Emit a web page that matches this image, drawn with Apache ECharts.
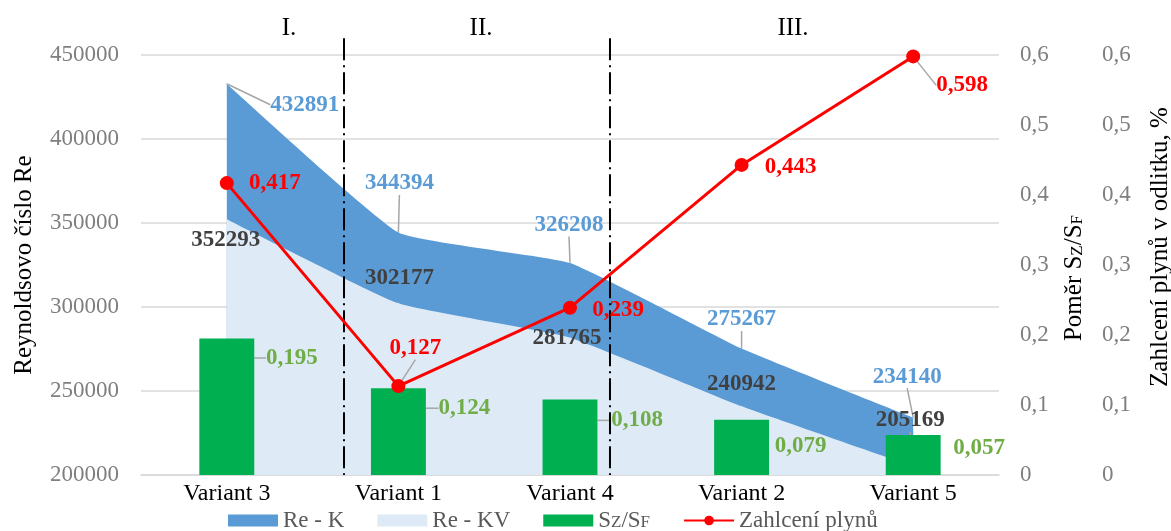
<!DOCTYPE html>
<html>
<head>
<meta charset="utf-8">
<script src="https://cdn.jsdelivr.net/npm/echarts@6/dist/echarts.min.js"></script>
<style>html,body{margin:0;padding:0;background:#fff}#c{width:1171px;height:531px}</style>
</head>
<body>
<div id="c"></div>
<script>
// ---- data ----
const categories = ['Variant 3', 'Variant 1', 'Variant 4', 'Variant 2', 'Variant 5'];
const reK = [432891, 344394, 326208, 275267, 234140];
const reKV = [352293, 302177, 281765, 240942, 205169];
const szsf = [0.195, 0.124, 0.108, 0.079, 0.057];
const zahlceni = [0.417, 0.127, 0.239, 0.443, 0.598];
const sections = ['I.', 'II.', 'III.'];
const dividerPos = [0.683, 2.233]; // position between categories (category index units)
const dividerRange = [460000, 200000]; // vertical extent of the dividers on the Re axis

// ---- layout (label offsets from the mark: dx, dy, leader line) ----
const offReK = [[78, 21, 1], [1, -49, 1], [-1, -38, 1], [0, -29, 1], [-6, -41, 1]];
const offReKV = [[-1, 21, 0], [1, -25, 0], [-3, 0, 0], [0, -22, 0], [-3, -46, 1]];
const offSz = [[65, 19.5, 1], [66, 20, 1], [67, 21, 1], [59, 26, 0], [66, 13, 0]];
const offZ = [[48, 0, 0], [17, -38, 1], [48, 2, 0], [49, 2, 0], [49, 29, 1]];
const sectionX = [289, 481, 793];

const FONT = "'Liberation Serif', 'Times New Roman', serif";
const comma = v => String(v).replace('.', ',');
const leader = { show: true, lineStyle: { color: '#A6A6A6', width: 1.5 } };

function items(vals, offs) {
  return vals.map((v, i) => ({ value: v, labelLine: offs[i][2] ? leader : { show: false } }));
}
function centerLayout(offs) {
  return p => ({
    x: p.rect.x + p.rect.width / 2 + offs[p.dataIndex][0],
    y: p.rect.y + p.rect.height / 2 + offs[p.dataIndex][1],
    align: 'center', verticalAlign: 'middle'
  });
}
function topLayout(offs) {
  return p => ({
    x: p.rect.x + p.rect.width / 2 + offs[p.dataIndex][0],
    y: p.rect.y + offs[p.dataIndex][1],
    align: 'center', verticalAlign: 'middle'
  });
}
const lbl = (color, fmt) => ({
  show: true, position: 'inside', color: color, fontFamily: FONT,
  fontWeight: 'bold', fontSize: 23, formatter: fmt
});

const dividerData = [];
dividerPos.forEach((x, i) => {
  if (i) dividerData.push('-');
  dividerData.push([x, dividerRange[0]], [x, dividerRange[1]]);
});

const chart = echarts.init(document.getElementById('c'));
chart.setOption({
  animation: false,
  textStyle: { fontFamily: FONT },
  grid: { left: 141, right: 172, top: 55, bottom: 56, containLabel: false, outerBoundsMode: 'none' },
  legend: {
    left: 223, top: 504, itemWidth: 50, itemHeight: 12, itemGap: 33,
    textStyle: {
      fontFamily: FONT, fontSize: 23, color: '#595959',
      rich: { n: { fontFamily: FONT, fontSize: 23, color: '#595959' }, s: { fontFamily: FONT, fontSize: 17, color: '#595959', padding: [5, 0, 0, 0] } }
    },
    formatter: n => n === 'SZ/SF' ? '{n|S}{s|Z}{n|/S}{s|F}' : n,
    data: [
      { name: 'Re - K', icon: 'rect', itemStyle: { color: '#5B9BD5' } },
      { name: 'Re - KV', icon: 'rect', itemStyle: { color: '#DEEBF7' } },
      { name: 'SZ/SF', icon: 'rect' },
      { name: 'Zahlcení plynů' }
    ]
  },
  graphic: sections.map((s, i) => ({
    type: 'text', x: sectionX[i], y: 28,
    style: { text: s, fontFamily: FONT, fontSize: 25, fill: '#000', align: 'center', verticalAlign: 'middle' }
  })),
  xAxis: [
    {
      type: 'category', data: categories, boundaryGap: true,
      axisLine: { lineStyle: { color: '#D9D9D9', width: 1.5 } },
      axisTick: { show: false },
      axisLabel: { color: '#000', fontFamily: FONT, fontSize: 24, margin: 7 }
    },
    { type: 'value', min: -0.5, max: 4.5, show: false }
  ],
  yAxis: [
    {
      type: 'value', min: 200000, max: 450000, interval: 50000,
      name: 'Reynoldsovo číslo Re', nameLocation: 'middle', nameGap: 104,
      nameTextStyle: { fontFamily: FONT, fontSize: 25, color: '#000' },
      axisLine: { show: false }, axisTick: { show: false },
      axisLabel: { color: '#7F7F7F', fontFamily: FONT, fontSize: 23, margin: 22, formatter: v => String(v) },
      splitLine: { lineStyle: { color: '#D9D9D9', width: 1.5 } }
    },
    {
      type: 'value', min: 0, max: 0.6, interval: 0.1, position: 'right',
      name: '{n|Poměr S}{s|Z}{n|/S}{s|F}', nameLocation: 'middle', nameGap: 63, nameRotate: 90,
      nameTextStyle: {
        fontFamily: FONT, fontSize: 25, color: '#000', padding: [0, 26, 0, 0],
        rich: { n: { fontFamily: FONT, fontSize: 25, color: '#000' }, s: { fontFamily: FONT, fontSize: 17, color: '#000', padding: [6, 0, 0, 0] } }
      },
      axisLine: { show: false }, axisTick: { show: false }, splitLine: { show: false },
      axisLabel: { color: '#7F7F7F', fontFamily: FONT, fontSize: 23, margin: 21, formatter: v => v === 0 ? '0' : comma(v.toFixed(1)) }
    },
    {
      type: 'value', min: 0, max: 0.6, interval: 0.1, position: 'right', offset: 82,
      name: 'Zahlcení plynů v odlitku, %', nameLocation: 'middle', nameGap: 67, nameRotate: 90,
      nameTextStyle: { fontFamily: FONT, fontSize: 25, color: '#000', padding: [0, 0, 0, 36] },
      axisLine: { show: false }, axisTick: { show: false }, splitLine: { show: false },
      axisLabel: { color: '#7F7F7F', fontFamily: FONT, fontSize: 23, margin: 21, formatter: v => v === 0 ? '0' : comma(v.toFixed(1)) }
    }
  ],
  series: [
    {
      name: 'Re - K', type: 'line', yAxisIndex: 0, smooth: 0.12, z: 1,
      symbol: 'circle', symbolSize: 1, itemStyle: { color: '#5B9BD5' },
      lineStyle: { width: 0 }, areaStyle: { color: '#5B9BD5', opacity: 1, origin: 'start' },
      data: items(reK, offReK),
      label: lbl('#5B9BD5'), labelLayout: centerLayout(offReK)
    },
    {
      name: 'Re - KV', type: 'line', yAxisIndex: 0, smooth: 0.12, z: 2,
      symbol: 'circle', symbolSize: 1, itemStyle: { color: '#DEEBF7' },
      lineStyle: { width: 0 }, areaStyle: { color: '#DEEBF7', opacity: 1, origin: 'start' },
      data: items(reKV, offReKV),
      label: lbl('#404040'), labelLayout: centerLayout(offReKV)
    },
    {
      name: 'SZ/SF', type: 'bar', yAxisIndex: 1, barWidth: '32%', z: 3,
      itemStyle: { color: '#00B050' },
      data: items(szsf, offSz),
      label: lbl('#70AD47', p => comma(p.value)), labelLayout: topLayout(offSz)
    },
    {
      name: 'dividers', type: 'line', xAxisIndex: 1, yAxisIndex: 0, z: 4, clip: false,
      silent: true, symbol: 'none', connectNulls: false,
      lineStyle: { color: '#000', width: 2, type: [22, 5, 2, 5] },
      data: dividerData
    },
    {
      name: 'Zahlcení plynů', type: 'line', yAxisIndex: 2, z: 5,
      symbol: 'circle', symbolSize: 14, itemStyle: { color: '#FF0000' },
      lineStyle: { color: '#FF0000', width: 3 },
      data: items(zahlceni, offZ),
      label: lbl('#FF0000', p => comma(p.value)), labelLayout: centerLayout(offZ)
    }
  ]
});
</script>
</body>
</html>
